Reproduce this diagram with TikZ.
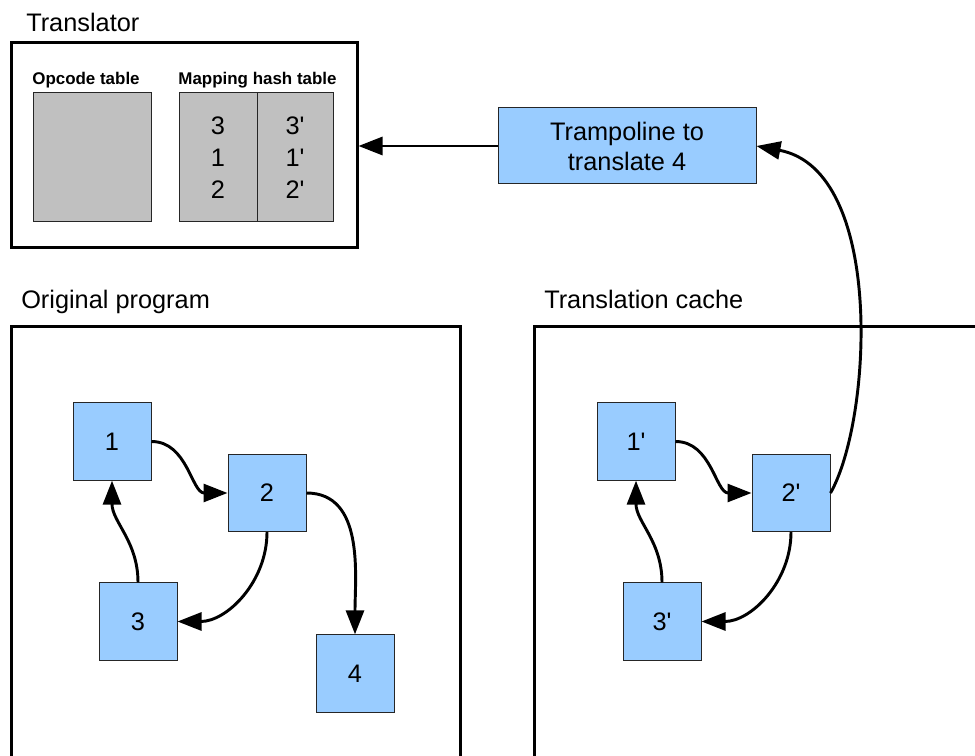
\documentclass[tikz,border=0pt]{standalone}
\usepackage{fontspec}
\setmainfont{Liberation Sans}
\usetikzlibrary{arrows.meta}
\definecolor{nodeblue}{HTML}{99CCFF}
\definecolor{tablegray}{HTML}{C0C0C0}
\newcommand{\pr}{\textquotesingle}
\begin{document}
\begin{tikzpicture}[x=0.75pt,y=-0.75pt,
  bigfont/.style={font=\fontsize{19}{22.5}\selectfont},
  title/.style={bigfont,anchor=base west,inner sep=0pt},
  frame/.style={line width=2.25pt},
  blk/.style={draw=black!85,line width=0.75pt,fill=nodeblue,minimum width=58.5pt,minimum height=58pt,inner sep=0pt,bigfont},
  tbl/.style={draw=black!85,line width=0.75pt,fill=tablegray},
  lbl/.style={font=\fontsize{12.7}{15}\selectfont\bfseries,anchor=base,inner sep=0pt},
  cell/.style={bigfont,align=center,inner sep=0pt},
  conn/.style={line width=2.2pt,-{Triangle[length=18pt,width=13.5pt]}}
]
\useasboundingbox (0,0) rectangle (975,756);
\clip (0,0) rectangle (975,756);

% Translator
\node[title] (ttranslator) at (26,32) {Translator};
\draw[frame] (11,42.5) rectangle (357,247.5);
\coordinate (trR) at (358.5,146);
\node[lbl] (lopcode) at (86,85) {Opcode table};
\node[lbl] (lmap) at (257.5,85) {Mapping hash table};
\draw[tbl] (33,93) rectangle (151,222);
\draw[tbl] (179,93) rectangle (333,222);
\draw[line width=0.75pt,black!85] (257,93) -- (257,222);
\node[cell] (colA) at (218,158) {3\\[1.5pt]1\\[1.5pt]2};
\node[cell] (colB) at (295,158) {3\pr\\[1.5pt]1\pr\\[1.5pt]2\pr};

% Trampoline
\node[draw=black!85,line width=0.75pt,fill=nodeblue,minimum width=193.5pt,minimum height=57pt,
      bigfont,align=center,inner sep=0pt] (tramp) at (627,146) {Trampoline to\\translate 4};
\draw[conn] (tramp.west) -- (trR);

% Original program
\node[title] (torig) at (21,308) {Original program};
\draw[frame] (11,790) -- (11,326.5) -- (460,326.5) -- (460,790);
\node[blk] (n1) at (112,441.5) {1};
\node[blk] (n2) at (267,493) {2};
\node[blk] (n3) at (138,621.5) {3};
\node[blk] (n4) at (355,673.5) {4};
\draw[conn] (n1.east) to[out=0,in=180] (n2.west);
\draw[conn] (n2.east) to[out=0,in=90] (n4.north);
\draw[conn] (n2.south) to[out=-90,in=0] (n3.east);
\draw[conn] (n3.north) to[out=90,in=-90] (n1.south);

% Translation cache
\node[title] (tcache) at (544,308) {Translation cache};
\draw[frame] (534,790) -- (534,326.5) -- (990,326.5);
\node[blk] (t1) at (636,441.5) {1\pr};
\node[blk] (t2) at (791,493) {2\pr};
\node[blk] (t3) at (662,621.5) {3\pr};
\draw[conn] (t1.east) to[out=0,in=180] (t2.west);
\draw[conn] (t2.south) to[out=-90,in=0] (t3.east);
\draw[conn] (t3.north) to[out=90,in=-90] (t1.south);
\draw[conn] (t2.east) .. controls (872,420) and (885,170) .. (tramp.east);
\end{tikzpicture}
\end{document}
